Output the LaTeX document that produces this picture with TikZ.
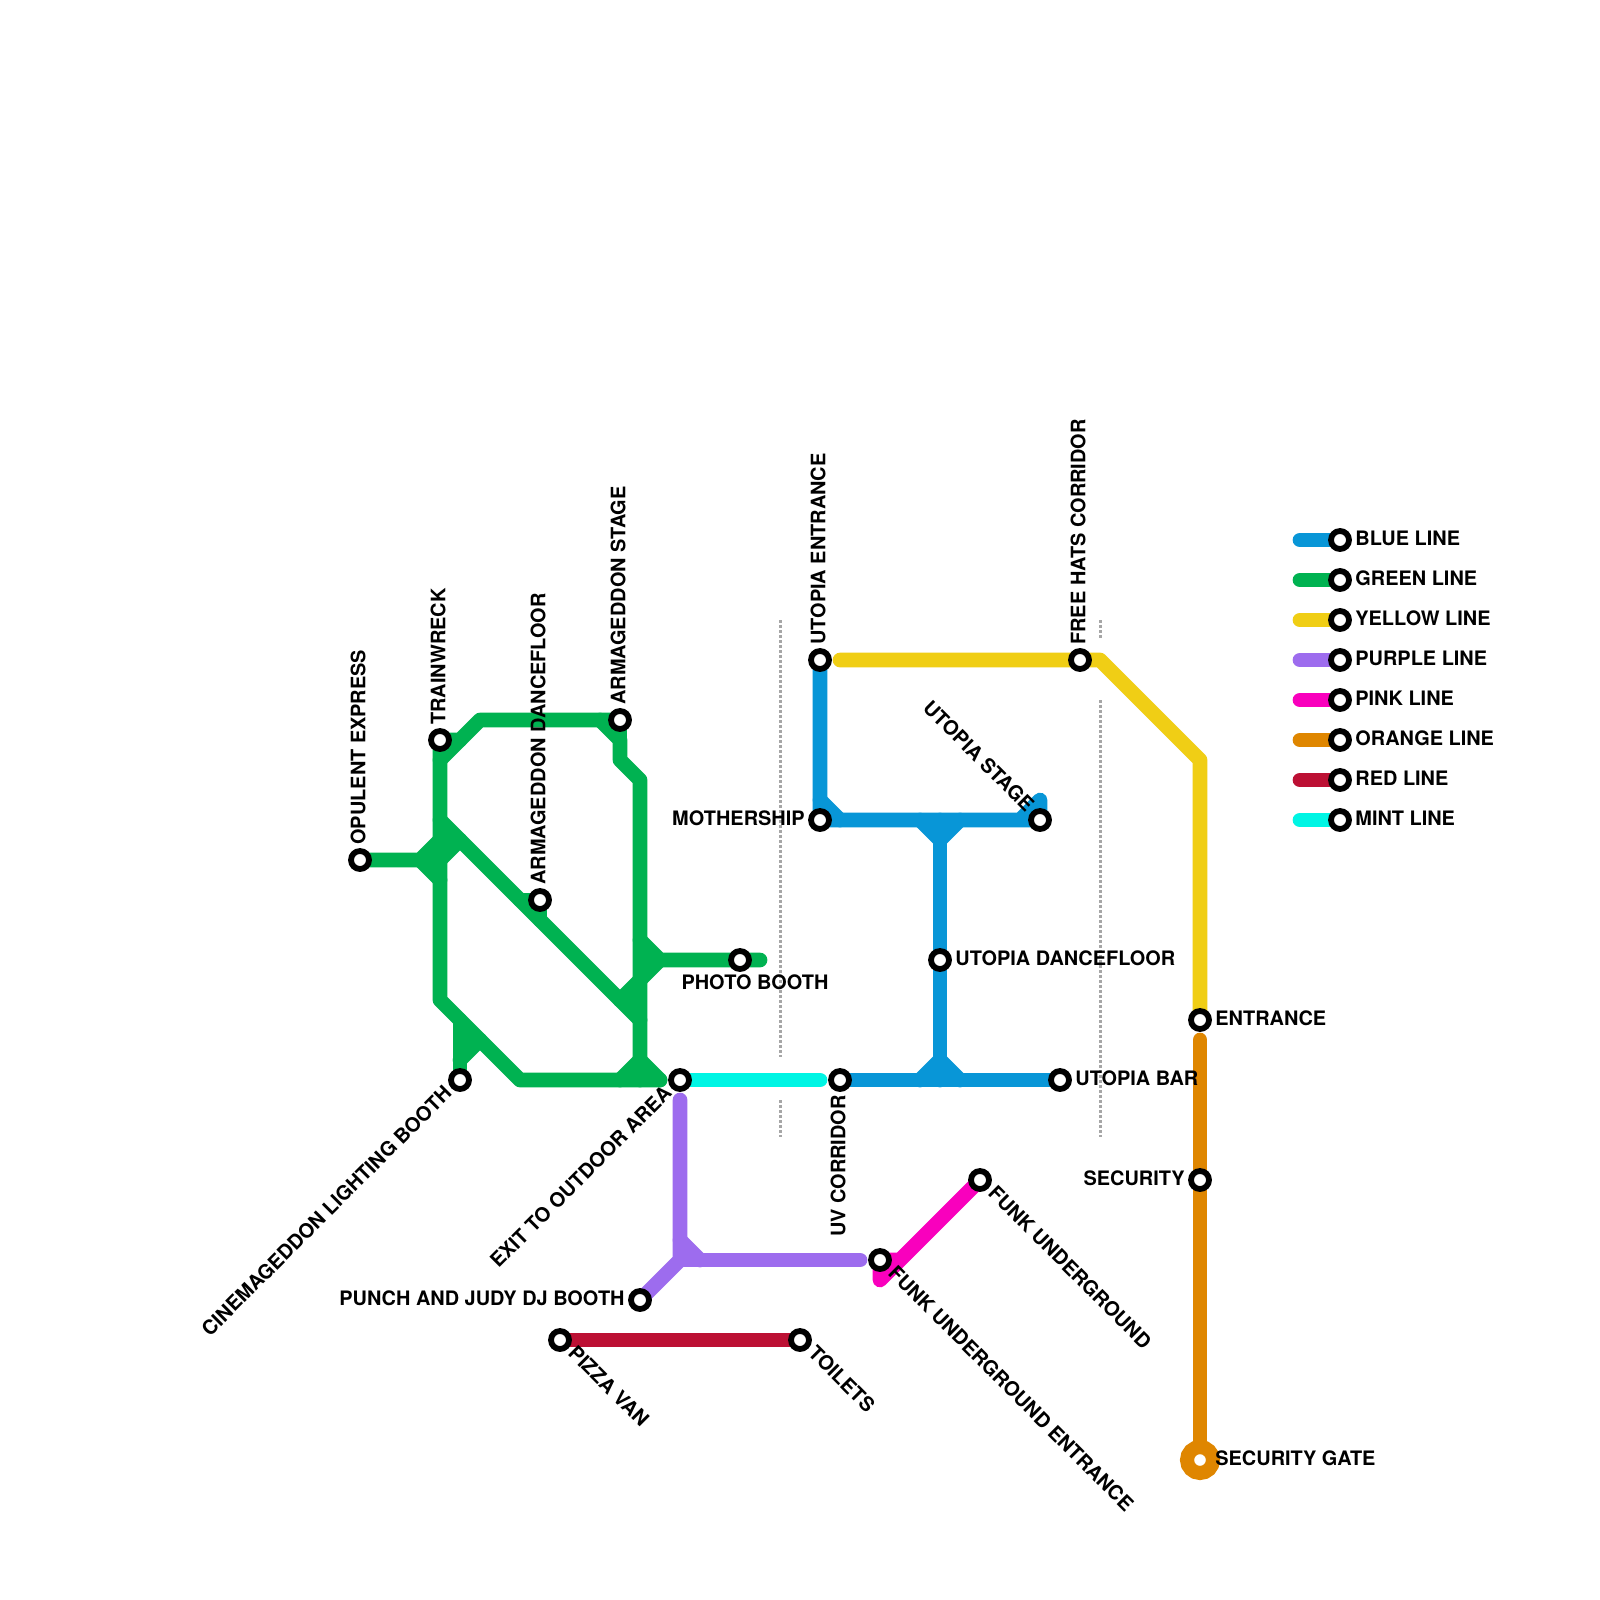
\documentclass[tikz,border=0pt]{standalone}
\usepackage{fontspec}
\setmainfont{TeX Gyre Heros}
\usetikzlibrary{calc}
\pgfdeclarelayer{tracks}
\pgfsetlayers{tracks,main}
\definecolor{cblue}{HTML}{0896D7}
\definecolor{cgreen}{HTML}{00B251}
\definecolor{cyellow}{HTML}{F0CE15}
\definecolor{cpurple}{HTML}{9D6CEE}
\definecolor{cpink}{HTML}{F900BD}
\definecolor{corange}{HTML}{DF8600}
\definecolor{cred}{HTML}{BC1034}
\definecolor{cmint}{HTML}{00F5E4}
\tikzset{
  x=0.5pt,y=-0.5pt,
  track/.style={line width=7.35pt,line cap=round,line join=round,draw=#1},
  station/.style={circle,draw=black,fill=white,line width=2.9pt,minimum size=9pt,inner sep=0pt},
  lbl/.style={font=\fontsize{9.96}{12}\selectfont\bfseries,inner sep=0pt,text=black},
  dots/.style={draw=black!35,line width=1.5pt,dash pattern=on 1.25pt off 1.25pt},
}
\newcommand{\labw}[3]{\node[lbl,rotate=#2,anchor=west] at ($(#1)+({15*cos(#2)-2*sin(#2)},{-15*sin(#2)-2*cos(#2)})$) {#3};}
\newcommand{\labe}[3]{\node[lbl,rotate=#2,anchor=east] at ($(#1)+({-15*cos(#2)-2*sin(#2)},{15*sin(#2)-2*cos(#2)})$) {#3};}
\begin{document}
\begin{tikzpicture}
\useasboundingbox (0,0) rectangle (1600,1600);
\begin{pgfonlayer}{tracks}
\fill[white] (0,0) rectangle (1600,1600);
\end{pgfonlayer}
% stations
\node[station] (opulent) at (360,860) {};
\node[station] (trainwreck) at (440,740) {};
\node[station] (armdance) at (540,900) {};
\node[station] (armstage) at (620,720) {};
\node[station] (photo) at (740,960) {};
\node[station] (cinema) at (460,1080) {};
\node[station] (exit) at (680,1080) {};
\node[station] (uv) at (840,1080) {};
\node[station] (utent) at (820,660) {};
\node[station] (mother) at (820,820) {};
\node[station] (utstage) at (1040,820) {};
\node[station] (utdance) at (940,960) {};
\node[station] (utbar) at (1060,1080) {};
\node[station] (freehats) at (1080,660) {};
\node[station] (entrance) at (1200,1020) {};
\node[station] (security) at (1200,1180) {};
\node[circle,draw=corange,fill=white,line width=7pt,minimum size=13pt,inner sep=0pt] (gate) at (1200,1460) {};
\node[station] (punch) at (640,1300) {};
\node[station] (funkent) at (880,1260) {};
\node[station] (funk) at (980,1180) {};
\node[station] (pizza) at (560,1340) {};
\node[station] (toilets) at (800,1340) {};
% legend stations
\foreach \n/\y in {lblue/540,lgreen/580,lyellow/620,lpurple/660,lpink/700,lorange/740,lred/780,lmint/820}{
  \node[station] (\n) at (1340,\y) {};
  \coordinate (s\n) at (1300,\y);
}
% free ends and junctions
\coordinate (photoend) at (760,960);
\coordinate (yellowstart) at (840,660);
\coordinate (orangestart) at (1200,1040);
\coordinate (mintend) at (820,1080);
\coordinate (purplestart) at (680,1100);
\coordinate (purpleend) at (860,1260);
\begin{pgfonlayer}{tracks}
% dotted
\draw[dots] (780,620) -- (780,1057);
\draw[dots] (780,1100) -- (780,1137);
\draw[dots] (1100,620) -- (1100,638);
\draw[dots] (1100,700) -- (1100,1137);
% green
\draw[track=cgreen] (trainwreck.center) -- (460,740) -- (480,720) -- (armstage.center);
\draw[track=cgreen] (600,720) -- (620,740) -- (620,760) -- (640,780) -- (640,1080);
\draw[track=cgreen] (armstage.center) -- (620,740);
\draw[track=cgreen] (440,760) -- (460,740);
\draw[track=cgreen] (trainwreck.center) -- (440,1000) -- (520,1080) -- (660,1080);
\draw[track=cgreen] (opulent.center) -- (420,860) -- (440,840);
\draw[track=cgreen] (420,860) -- (440,880);
\draw[track=cgreen] (440,820) -- (640,1020);
\draw[track=cgreen] (440,860) -- (460,840);
\draw[track=cgreen] (520,900) -- (armdance.center) -- (540,920);
\draw[track=cgreen] (620,1000) -- (640,980);
\draw[track=cgreen] (640,940) -- (660,960) -- (photoend);
\draw[track=cgreen] (640,980) -- (660,960);
\draw[track=cgreen] (620,1080) -- (640,1060) -- (660,1080);
\draw[track=cgreen] (460,1020) -- (cinema.center);
\draw[track=cgreen] (460,1060) -- (480,1040);
% green junction fills
\fill[cgreen] (440,820) -- (460,840) -- (440,860) -- cycle;
\fill[cgreen] (420,860) -- (440,840) -- (440,880) -- cycle;
\fill[cgreen] (640,940) -- (660,960) -- (640,980) -- cycle;
\fill[cgreen] (620,1000) -- (640,980) -- (640,1020) -- cycle;
\fill[cgreen] (620,1080) -- (640,1060) -- (660,1080) -- cycle;
\fill[cgreen] (460,1020) -- (480,1040) -- (460,1060) -- cycle;
% blue
\draw[track=cblue] (utent.center) -- (mother.center) -- (utstage.center) -- (1040,800) -- (1020,820);
\draw[track=cblue] (820,800) -- (840,820);
\draw[track=cblue] (920,820) -- (940,840) -- (960,820);
\draw[track=cblue] (940,820) -- (utdance.center) -- (940,1080);
\draw[track=cblue] (920,1080) -- (940,1060) -- (960,1080);
\draw[track=cblue] (uv.center) -- (utbar.center);
\fill[cblue] (920,820) -- (960,820) -- (940,840) -- cycle;
\fill[cblue] (920,1080) -- (940,1060) -- (960,1080) -- cycle;
% others
\draw[track=cyellow] (yellowstart) -- (freehats.center) -- (1100,660) -- (1200,760) -- (entrance.center);
\draw[track=corange] (orangestart) -- (security.center) -- (gate.center);
\draw[track=cmint] (exit.center) -- (mintend);
\draw[track=cpurple] (purplestart) -- (680,1260) -- (punch.center);
\draw[track=cpurple] (680,1240) -- (700,1260);
\draw[track=cpurple] (680,1260) -- (purpleend);
\fill[cpurple] (680,1240) -- (700,1260) -- (680,1260) -- cycle;
\draw[track=cpink] (funk.center) -- (880,1280) -- (funkent.center) -- (900,1260);
\draw[track=cred] (pizza.center) -- (toilets.center);
% legend
\draw[track=cblue] (slblue) -- (lblue.center);
\draw[track=cgreen] (slgreen) -- (lgreen.center);
\draw[track=cyellow] (slyellow) -- (lyellow.center);
\draw[track=cpurple] (slpurple) -- (lpurple.center);
\draw[track=cpink] (slpink) -- (lpink.center);
\draw[track=corange] (slorange) -- (lorange.center);
\draw[track=cred] (slred) -- (lred.center);
\draw[track=cmint] (slmint) -- (lmint.center);
\end{pgfonlayer}
% labels
\labw{opulent}{90}{OPULENT EXPRESS}
\labw{trainwreck}{90}{TRAINWRECK}
\labw{armdance}{90}{ARMAGEDDON DANCEFLOOR}
\labw{armstage}{90}{ARMAGEDDON STAGE}
\labw{utent}{90}{UTOPIA ENTRANCE}
\labw{freehats}{90}{FREE HATS CORRIDOR}
\labe{uv}{90}{UV CORRIDOR}
\labe{cinema}{45}{CINEMAGEDDON LIGHTING BOOTH}
\labe{exit}{45}{EXIT TO OUTDOOR AREA}
\labe{utstage}{-45}{UTOPIA STAGE}
\labe{mother}{0}{MOTHERSHIP}
\labe{punch}{0}{PUNCH AND JUDY DJ BOOTH}
\labe{security}{0}{SECURITY}
\labw{utdance}{0}{UTOPIA DANCEFLOOR}
\labw{utbar}{0}{UTOPIA BAR}
\labw{entrance}{0}{ENTRANCE}
\labw{gate}{0}{SECURITY GATE}
\labw{funk}{-45}{FUNK UNDERGROUND}
\labw{funkent}{-45}{FUNK UNDERGROUND ENTRANCE}
\labw{pizza}{-45}{PIZZA VAN}
\labw{toilets}{-45}{TOILETS}
\node[lbl] (photolabel) at (755,982.5) {PHOTO BOOTH};
\labw{lblue}{0}{BLUE LINE}
\labw{lgreen}{0}{GREEN LINE}
\labw{lyellow}{0}{YELLOW LINE}
\labw{lpurple}{0}{PURPLE LINE}
\labw{lpink}{0}{PINK LINE}
\labw{lorange}{0}{ORANGE LINE}
\labw{lred}{0}{RED LINE}
\labw{lmint}{0}{MINT LINE}
\end{tikzpicture}
\end{document}
